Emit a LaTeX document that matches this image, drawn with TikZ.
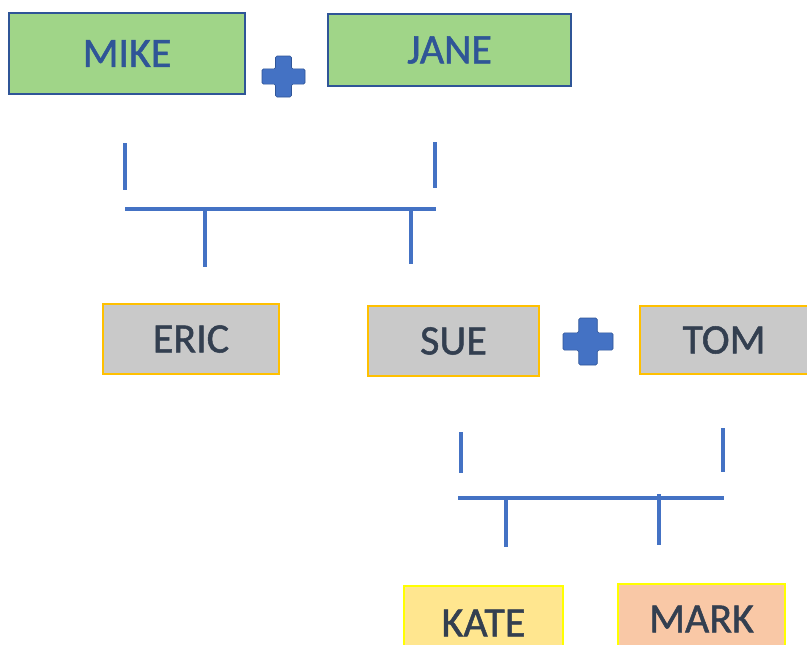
\documentclass[tikz,border=0pt]{standalone}
\usepackage{fontspec}
\setmainfont{Carlito}
\newfontfamily\boxfont[RawFeature={embolden=1.2}]{Carlito}
\definecolor{leafgreen}{HTML}{A0D588}
\definecolor{darkblue}{HTML}{2F5597}
\definecolor{lineblue}{HTML}{4472C4}
\definecolor{boxgrey}{HTML}{C9C9C9}
\definecolor{goldedge}{HTML}{FFC000}
\definecolor{slatetext}{HTML}{333F50}
\definecolor{kateyellow}{HTML}{FFE68F}
\definecolor{markpeach}{HTML}{F9C8A6}
\definecolor{brightyellow}{HTML}{FFFF00}
\tikzset{%
  famline/.style = {draw=lineblue,line width=3.5pt},
  box/.style = {rectangle,draw,line width=1.3pt,inner sep=0pt,
        font=\boxfont\fontsize{42}{46}\selectfont},
  greenbox/.style = {box,fill=leafgreen,draw=darkblue,text=darkblue},
  greybox/.style = {box,fill=boxgrey,draw=goldedge,text=slatetext},
  katebox/.style = {box,fill=kateyellow,draw=brightyellow,text=slatetext},
  markbox/.style = {box,fill=markpeach,draw=brightyellow,text=slatetext},
  plusmark/.pic = {
    \filldraw[fill=lineblue,draw=darkblue,line width=0.6pt,rounded corners=1.5pt]
      (-1,-0.37) -- (-0.37,-0.37) -- (-0.37,-1) -- (0.37,-1) -- (0.37,-0.37)
      -- (1,-0.37) -- (1,0.37) -- (0.37,0.37) -- (0.37,1) -- (-0.37,1)
      -- (-0.37,0.37) -- (-1,0.37) -- cycle;
  }
}
\begin{document}
\begin{tikzpicture}[x=1pt,y=-1pt]
  \useasboundingbox (0,0) rectangle (807,645);
  % first couple
  \node[greenbox,minimum width=236pt,minimum height=81pt] (mike) at (127,53.5) {MIKE};
  \node[greenbox,minimum width=243pt,minimum height=72pt] (jane) at (449.5,50) {JANE};
  \pic (plusa) [xscale=21.5,yscale=20.5] at (283.5,76.5) {plusmark};
  % their children
  \coordinate (barAl) at (125,209);
  \coordinate (barAr) at (436,209);
  \draw[famline] (125,143) -- (125,190);
  \draw[famline] (435,142) -- (435,188);
  \draw[famline] (barAl) -- (barAr);
  \draw[famline] (205,209) -- (205,267);
  \draw[famline] (411,209) -- (411,264);
  \node[greybox,minimum width=176pt,minimum height=70pt] (eric) at (191,339) {ERIC};
  \node[greybox,minimum width=171pt,minimum height=70pt] (sue) at (453.5,341) {SUE};
  \pic (plusb) [xscale=25,yscale=23.5] at (588,341.5) {plusmark};
  \node[greybox,minimum width=168pt,minimum height=68pt] (tom) at (724,340) {TOM};
  % second generation
  \coordinate (barBl) at (458,498);
  \coordinate (barBr) at (724,498);
  \draw[famline] (461,432) -- (461,473);
  \draw[famline] (723,428) -- (723,472);
  \draw[famline] (barBl) -- (barBr);
  \draw[famline] (506,498) -- (506,547);
  \draw[famline] (659,494) -- (659,545);
  \node[katebox,minimum width=159pt,minimum height=74pt] (kate) at (483.5,623) {KATE};
  \node[markbox,minimum width=167pt,minimum height=70pt] (mark) at (701.5,619) {MARK};
\end{tikzpicture}
\end{document}
